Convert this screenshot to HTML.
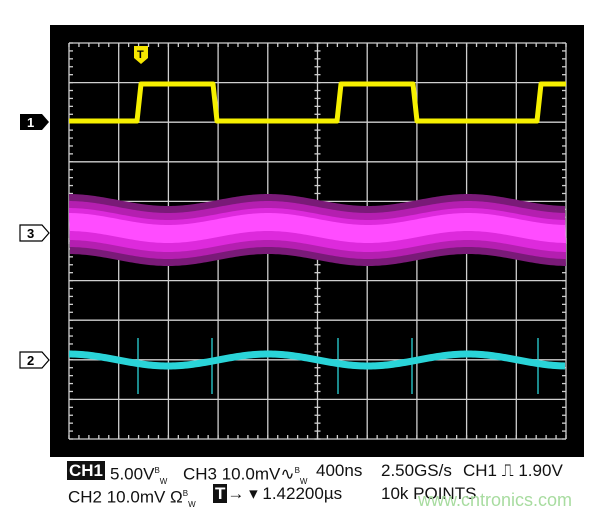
<!DOCTYPE html>
<html><head><meta charset="utf-8"><style>
body{margin:0;background:#fff;width:600px;height:517px;overflow:hidden;font-family:"Liberation Sans",sans-serif}
.t{position:absolute;font-size:17px;color:#111;white-space:nowrap;line-height:20px}
.b{background:#111;color:#fff;font-weight:bold;padding:0 2px}
sup,sub{font-size:8px}
</style></head><body>
<svg width="600" height="517" style="position:absolute;left:0;top:0" xmlns="http://www.w3.org/2000/svg">
<rect x="50" y="25" width="534" height="432" fill="#000"/>
<g id="grid" stroke="#cfcfcf" stroke-width="1.3" fill="none"></g>
<g id="tr"></g>
<g font-family="Liberation Sans" font-weight="bold" font-size="13">
<path d="M20 114h22l7 8-7 8h-22z" fill="#000"/><text x="27" y="127" fill="#fff">1</text>
<path d="M20 225h22l7 8-7 8h-22z" fill="#fff" stroke="#000" stroke-width="1.2"/><text x="27" y="238" fill="#000">3</text>
<path d="M20 352h22l7 8-7 8h-22z" fill="#fff" stroke="#000" stroke-width="1.2"/><text x="27" y="365" fill="#000">2</text>
<path d="M134 46h14v12l-7 6-7-6z" fill="#f6e600"/><text x="137" y="58" fill="#000" font-size="11">T</text>
</g>
</svg>
<div class="t" style="left:67px;top:461px"><span class="b">CH1</span></div>
<div class="t" style="left:110px;top:461px">5.00V<sup>B</sup><sub>W</sub></div>
<div class="t" style="left:183px;top:461px">CH3 10.0mV∿<sup>B</sup><sub>W</sub></div>
<div class="t" style="left:316px;top:461px">400ns</div>
<div class="t" style="left:381px;top:461px">2.50GS/s</div>
<div class="t" style="left:463px;top:461px">CH1 ⎍ 1.90V</div>
<div class="t" style="left:68px;top:484px">CH2 10.0mV Ω<sup>B</sup><sub>W</sub></div>
<div class="t" style="left:213px;top:484px"><span class="b">T</span>→ ▾ 1.42200µs</div>
<div class="t" style="left:381px;top:484px">10k POINTS</div>
<div class="t" style="left:418px;top:490px;color:#a8dca0;font-size:18px">www.cntronics.com</div>
<script>
const ns="http://www.w3.org/2000/svg";
const g=document.getElementById('grid'),tr=document.getElementById('tr');
function el(p,t,a){const e=document.createElementNS(ns,t);for(const k in a)e.setAttribute(k,a[k]);p.appendChild(e);return e;}
const x0=69,x1=566,y0=43,y1=439,dx=(x1-x0)/10,dy=(y1-y0)/10;
for(let i=0;i<=10;i++){el(g,'line',{x1:x0+i*dx,y1:y0,x2:x0+i*dx,y2:y1});el(g,'line',{x1:x0,y1:y0+i*dy,x2:x1,y2:y0+i*dy});}
const cx=x0+5*dx,cy=y0+5*dy;
for(let i=0;i<=50;i++){const x=x0+i*dx/5;
 [[y0,4],[y1-4,4],[cy-3,6]].forEach(([y,h])=>el(g,'line',{x1:x,y1:y,x2:x,y2:y+h}));}
for(let i=0;i<=50;i++){const y=y0+i*dy/5;
 [[x0,4],[x1-4,4],[cx-3,6]].forEach(([x,w])=>el(g,'line',{x1:x,y1:y,x2:x+w,y2:y}));}
function band(c,off,w,col){let top='';for(let x=x0;x<=x1;x+=2){const y=c+6*Math.cos(2*Math.PI*(x-168)/200);top+=(x==x0?'M':'L')+x+' '+(y-w+off);}
 for(let x=x1;x>=x0;x-=2){const y=c+6*Math.cos(2*Math.PI*(x-168)/200);top+='L'+x+' '+(y+w+off);}
 el(tr,'path',{d:top+'Z',fill:col});}
band(230,0,30,'#7a1a78');band(230,0,23,'#b41fb0');band(230,0,16,'#dd2adc');band(230,-2,9,'#ff4cff');
let cp='';for(let x=x0;x<=x1;x+=2){const y=360+6*Math.cos(2*Math.PI*(x-168)/200);cp+=(x==x0?'M':'L')+x+' '+y;}
el(tr,'path',{d:cp,stroke:'#2ad4d8','stroke-width':7,fill:'none'});
[138,212,338,412,538].forEach(x=>el(tr,'line',{x1:x,y1:338,x2:x,y2:394,stroke:'#2ad4d8','stroke-width':1.3}));
let yp=`M${x0} 121 L137 121 L141 84 L213 84 L217 121 L337 121 L341 84 L413 84 L417 121 L537 121 L541 84 L${x1} 84`;
el(tr,'path',{d:yp,stroke:'#f6f000','stroke-width':5,fill:'none','stroke-linejoin':'round'});
</script>
</body></html>
